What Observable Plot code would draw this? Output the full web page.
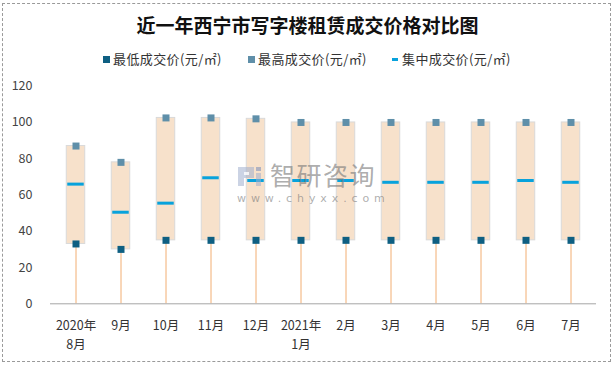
<!DOCTYPE html>
<html><head><meta charset="utf-8">
<script src="https://cdn.jsdelivr.net/npm/d3@7"></script>
<script src="https://cdn.jsdelivr.net/npm/@observablehq/plot@0.6"></script>
<style>
body{margin:0;background:#fff;font-family:"Noto Sans CJK SC","Noto Sans",sans-serif;}
#wrap{position:relative;width:615px;height:366px;overflow:hidden;background:#fff;}
#frame{position:absolute;left:2px;top:3px;width:607px;height:357px;border:1px dashed #9a9a9a;pointer-events:none;z-index:5;}
#header{position:relative;height:75px;}
#title{position:absolute;left:0;width:615px;top:13px;line-height:24px;text-align:center;font-size:19px;font-weight:700;color:#111;}
.leg{position:absolute;top:51px;height:16px;line-height:16px;font-size:13px;letter-spacing:0.4px;color:#333;white-space:nowrap;display:flex;align-items:center;}
.sw{display:inline-block;width:7px;height:7px;margin-right:3px;}
.dash{display:inline-block;width:6px;height:3px;margin-right:4px;background:#08a2dc;}
#wm{position:absolute;left:237px;top:163px;z-index:4;pointer-events:none;}
#wm .big{position:absolute;left:33px;top:-2px;font-size:25px;line-height:26px;color:rgba(120,120,120,0.62);white-space:nowrap;letter-spacing:1.5px;}
#wm .small{position:absolute;left:0;top:30px;font-size:11px;line-height:12px;letter-spacing:4.9px;color:rgba(120,120,120,0.6);white-space:nowrap;font-family:"DejaVu Sans",sans-serif;}
</style></head>
<body>
<div id="wrap">
  <div id="frame"></div>
  <div id="header">
    <div id="title">近一年西宁市写字楼租赁成交价格对比图</div>
    <div class="leg" style="left:103px"><span class="sw" style="background:#0e5f82"></span>最低成交价(元/㎡)</div>
    <div class="leg" style="left:248px"><span class="sw" style="background:#5f8fa9"></span>最高成交价(元/㎡)</div>
    <div class="leg" style="left:392px"><span class="dash"></span>集中成交价(元/㎡)</div>
  </div>
  <div id="chart"></div>
  <div id="wm">
    <svg width="26" height="24" style="position:absolute;left:0;top:2px">
      <path d="M1 2 H17 V13 H7 V21 H1 Z" fill="rgba(160,175,205,0.55)"/>
      <rect x="7" y="7" width="5" height="3" fill="#fff" opacity="0.8"/>
      <rect x="19" y="2" width="5" height="4" fill="rgba(120,140,185,0.55)"/>
      <rect x="19" y="8" width="5" height="13" fill="rgba(160,175,205,0.55)"/>
    </svg>
    <div class="big">智研咨询</div>
    <div class="small">www.chyxx.com</div>
  </div>
</div>
<script>
const categories = ["2020年\n8月","9月","10月","11月","12月","2021年\n1月","2月","3月","4月","5月","6月","7月"];
const minPrice = [33, 30, 35, 35, 35, 35, 35, 35, 35, 35, 35, 35];
const maxPrice = [87, 78, 102.5, 102.5, 102, 100, 100, 100, 100, 100, 100, 100];
const midPrice = [66, 50.5, 55.5, 69.5, 68, 68, 68, 67, 67, 67, 68, 67];
const yTicks = [0, 20, 40, 60, 80, 100, 120];

const data = categories.map((c, i) => ({c, lo: minPrice[i], hi: maxPrice[i], mid: midPrice[i]}));

const chart = Plot.plot({
  width: 615,
  height: 291,
  marginLeft: 50,
  marginRight: 19,
  marginTop: 10.7,
  marginBottom: 62.7,
  style: {fontFamily: '"Noto Sans CJK SC","Noto Sans",sans-serif', fontSize: "12.5px", color: "#444", background: "transparent", overflow: "visible"},
  x: {domain: categories, padding: 0, label: null},
  y: {domain: [0, 120], label: null},
  marks: [
    Plot.axisY({ticks: yTicks, tickSize: 0, tickPadding: 18, label: null, fill: "#444"}),
    Plot.axisX({tickSize: 0, tickPadding: 13, lineHeight: 1.5, label: null, fill: "#333"}),
    Plot.ruleX(data, {x: "c", y1: 0, y2: "lo", stroke: "#f2ae72", strokeWidth: 1}),
    Plot.barY(data, {x: "c", y1: "lo", y2: "hi", fill: "#f7e1cb", stroke: "#d9d9d9", strokeWidth: 1, insetLeft: 13.25, insetRight: 13.25}),
    Plot.tickY(data, {x: "c", y: "mid", stroke: "#08a2dc", strokeWidth: 3, inset: 14.25}),
    Plot.dot(data, {x: "c", y: "lo", symbol: "square", r: 3.95, fill: "#0e5f82"}),
    Plot.dot(data, {x: "c", y: "hi", symbol: "square", r: 3.95, fill: "#5f8fa9"}),
    Plot.ruleY([0], {stroke: "#a6a6a6", strokeWidth: 1})
  ]
});
document.getElementById("chart").appendChild(chart);
</script>
</body></html>
